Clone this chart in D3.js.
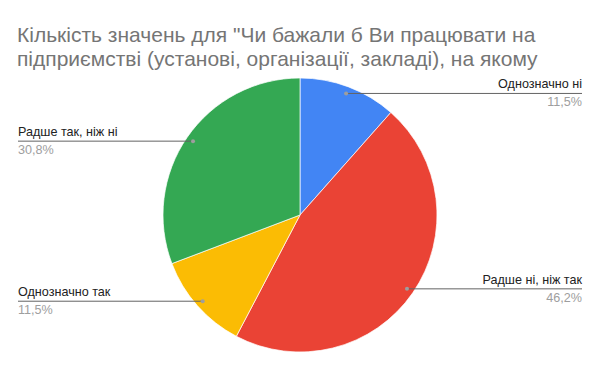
<!DOCTYPE html>
<html><head><meta charset="utf-8">
<script src="https://cdn.jsdelivr.net/npm/d3@7"></script>
<style>body{margin:0;background:#fff}svg{display:block}</style>
</head><body>
<script>
const categories = ["Однозначно ні", "Радше ні, ніж так", "Однозначно так", "Радше так, ніж ні"];
const counts = [3, 12, 3, 8];
const percentLabels = ["11,5%", "46,2%", "11,5%", "30,8%"];
const colors = ["#4285f4", "#ea4335", "#fbbc04", "#34a853"];
const titleLines = ["Кількість значень для \"Чи бажали б Ви працювати на", "підприємстві (установі, організації, закладі), на якому"];

const W = 600, H = 371;
const FONT = "'Liberation Sans', Arial, sans-serif";
const svg = d3.select("body").append("svg").attr("width", W).attr("height", H);
svg.append("rect").attr("width", W).attr("height", H).attr("fill", "#fff");

const title = svg.append("text").attr("font-family", FONT).attr("font-size", 21).attr("fill", "#757575");
titleLines.forEach((t, i) => title.append("tspan").attr("x", 17).attr("y", 42 + i * 24).text(t));

const cx = 300, cy = 215, R = 137;
const pie = d3.pie().sort(null).value(d => d)(counts);
const arc = d3.arc().innerRadius(0).outerRadius(R);
const g = svg.append("g").attr("transform", `translate(${cx},${cy})`);
g.selectAll("path").data(pie).join("path")
  .attr("d", arc).attr("fill", (d, i) => colors[i]).attr("stroke", "#fff").attr("stroke-width", 0.7);

const dotR = 130;
const lineEndsLeft = 18, lineEndsRight = 582;
pie.forEach((d, i) => {
  const a = (d.startAngle + d.endAngle) / 2;
  const x = cx + Math.sin(a) * dotR, y = cy - Math.cos(a) * dotR;
  const right = Math.sin(a) > 0;
  const xEnd = right ? lineEndsRight : lineEndsLeft;
  svg.append("line").attr("x1", x).attr("y1", y).attr("x2", xEnd).attr("y2", y)
    .attr("stroke", "#636363").attr("stroke-width", 1);
  svg.append("circle").attr("cx", x).attr("cy", y).attr("r", 2).attr("fill", "#9e9e9e");
  const anchor = right ? "end" : "start";
  svg.append("text").attr("x", xEnd).attr("y", y - 5).attr("text-anchor", anchor)
    .attr("font-family", FONT).attr("font-size", 12.6).attr("fill", "#222")
    .text(categories[i]);
  svg.append("text").attr("x", xEnd).attr("y", y + 13).attr("text-anchor", anchor)
    .attr("font-family", FONT).attr("font-size", 12.6).attr("fill", "#9e9e9e")
    .text(percentLabels[i]);
});
</script>
</body></html>
